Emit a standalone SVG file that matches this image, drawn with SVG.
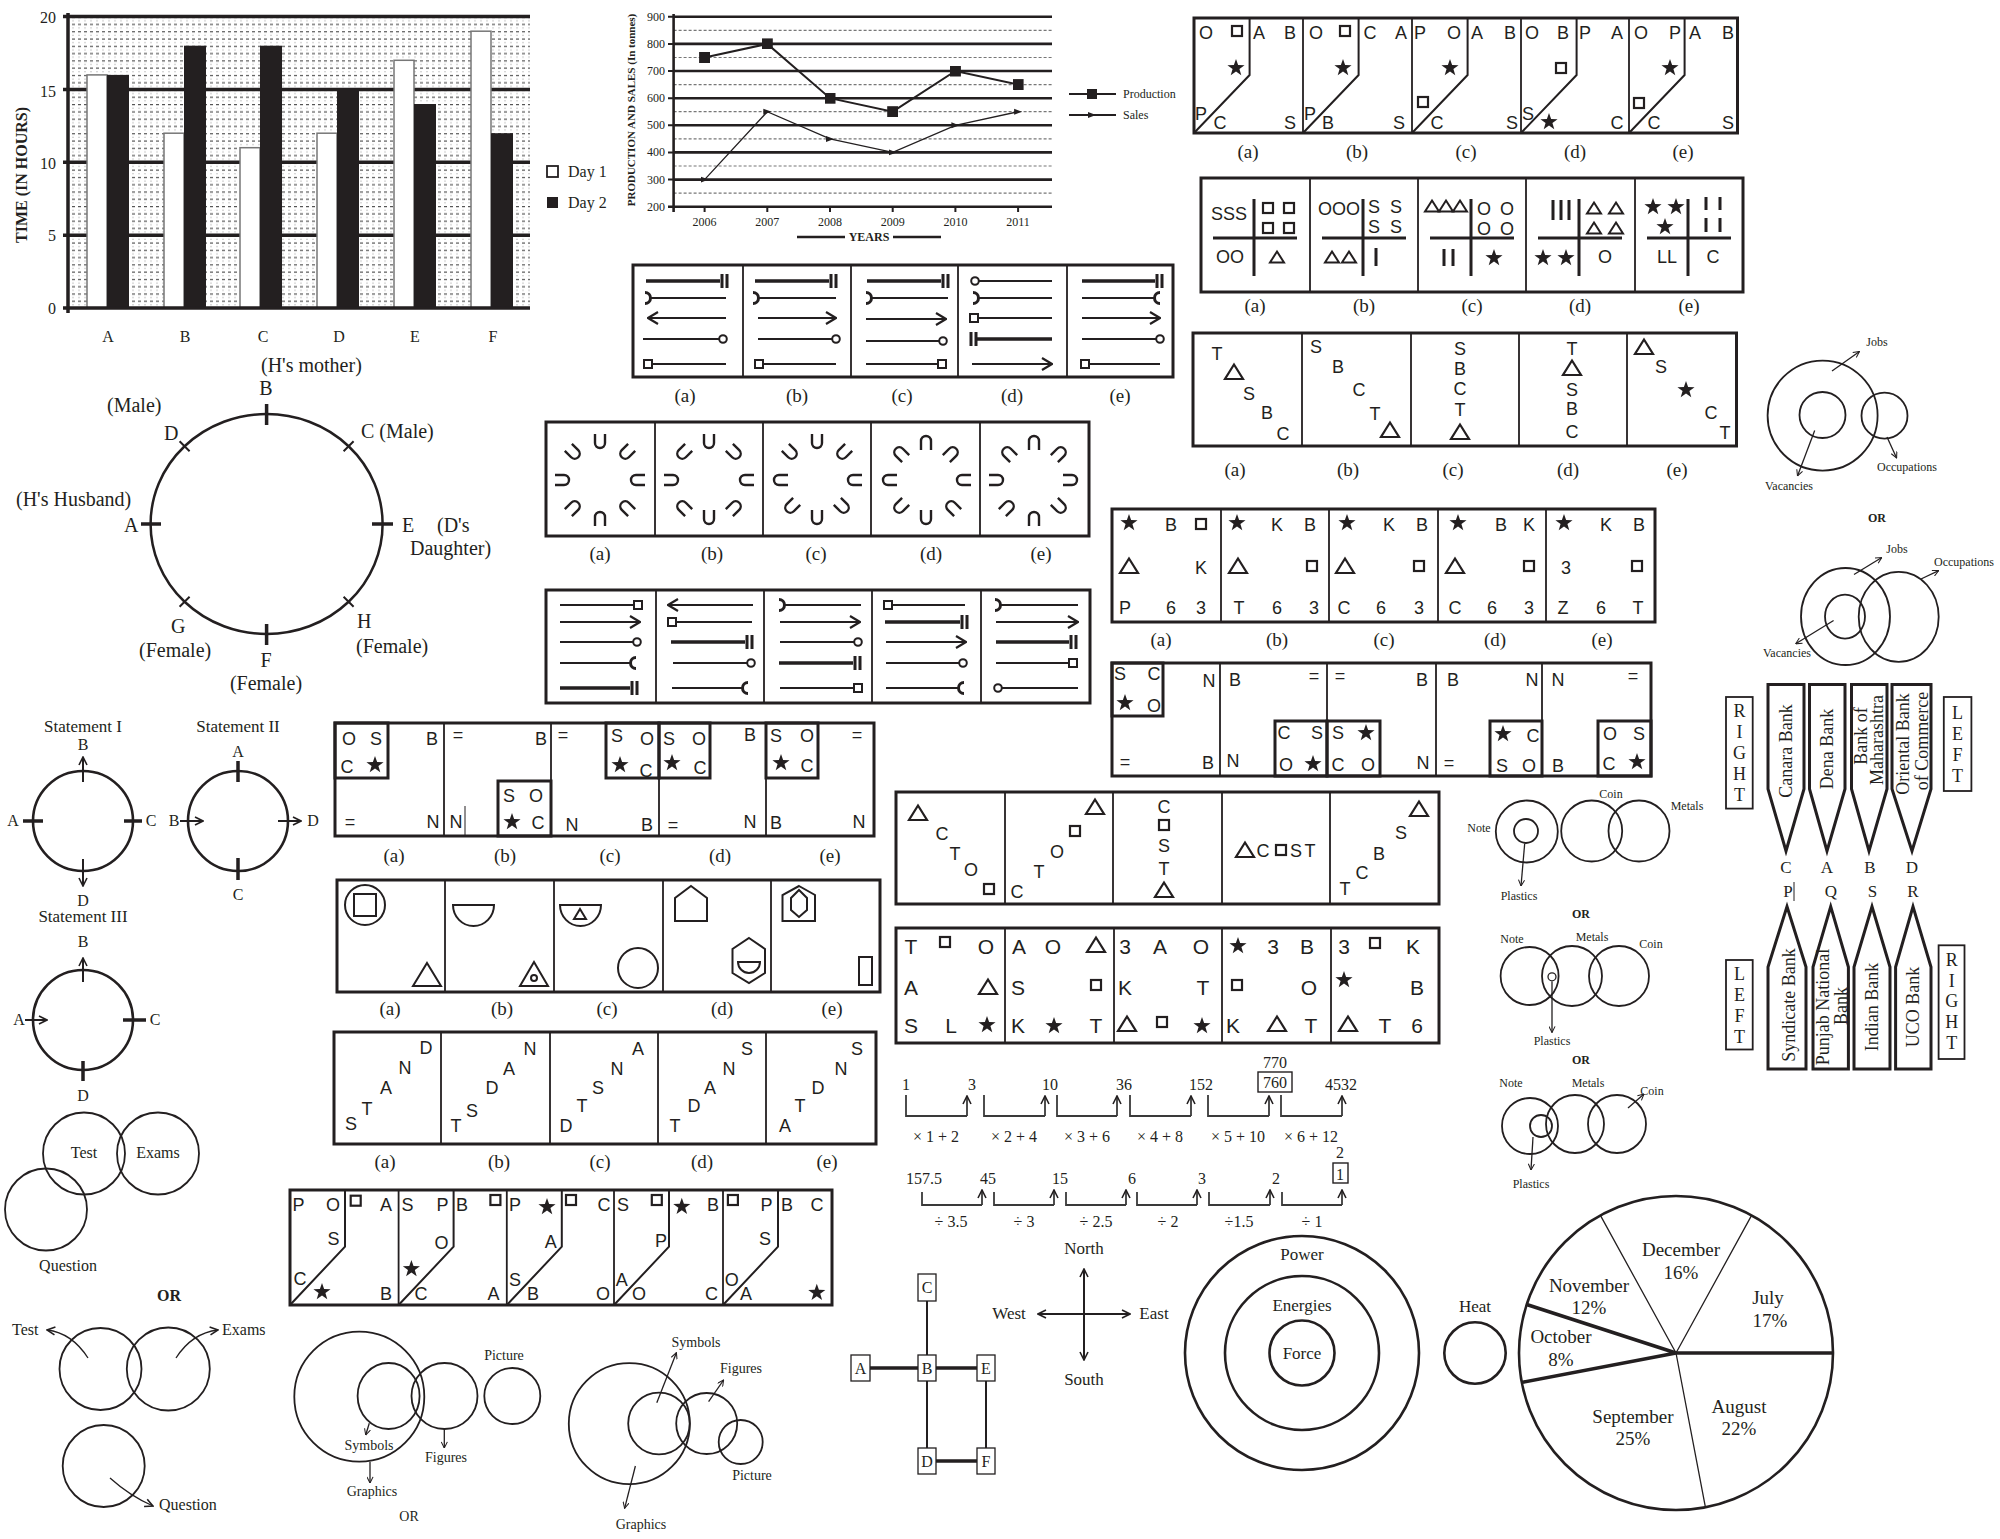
<svg xmlns="http://www.w3.org/2000/svg" width="2000" height="1539" viewBox="0 0 2000 1539">
<style>
text{fill:#231f20}
.s{font-family:"Liberation Sans",Arial,sans-serif;font-size:18px;text-anchor:middle}
.s21{font-family:"Liberation Sans",Arial,sans-serif;font-size:21px;text-anchor:middle}
.lb{font-family:"Liberation Serif","Times New Roman",serif;font-size:19px;text-anchor:middle}
.sf{font-family:"Liberation Serif","Times New Roman",serif;font-size:16px}
.c{text-anchor:middle}
.e{text-anchor:end}
.b{font-weight:bold}
.bx{fill:none;stroke:#231f20;stroke-width:3}
.dv{fill:none;stroke:#231f20;stroke-width:1.8}
.ln{fill:none;stroke:#231f20;stroke-width:2}
.tn{fill:none;stroke:#231f20;stroke-width:1.3}
.tk{fill:none;stroke:#231f20;stroke-width:3.5}
.cr{fill:none;stroke:#231f20;stroke-width:1.8}
.gl{fill:none;stroke:#231f20;stroke-width:2.6}
.gd{fill:none;stroke:#777;stroke-width:1.2;stroke-dasharray:3 2}
.br{fill:none;stroke:#3a3a3a;stroke-width:1.8}
</style>
<defs>
<path id="st" d="M0,-9 L2.12,-2.91 L8.56,-2.78 L3.42,1.11 L5.29,7.28 L0,3.6 L-5.29,7.28 L-3.42,1.11 L-8.56,-2.78 L-2.12,-2.91 Z" fill="#231f20"/>
<rect id="sq" x="-5" y="-5" width="10" height="10" fill="none" stroke="#231f20" stroke-width="2.2"/>
<path id="tr" d="M0,-7.5 L9,7 L-9,7 Z" fill="none" stroke="#231f20" stroke-width="2.2"/>
<path id="ts" d="M0,-5.5 L7,5.5 L-7,5.5 Z" fill="none" stroke="#231f20" stroke-width="2"/>
<path id="u" d="M-5,-8 V1 A5,5 0 0 0 5,1 V-8" fill="none" stroke="#231f20" stroke-width="2.4"/>
<path id="cl" d="M0,-5.5 A5.5,5.5 0 0 1 0,5.5" fill="none" stroke="#231f20" stroke-width="3"/>
<path id="cr" d="M0,-5.5 A5.5,5.5 0 0 0 0,5.5" fill="none" stroke="#231f20" stroke-width="3"/>
<path id="db" d="M0,-7 V7 M5,-7 V7" fill="none" stroke="#231f20" stroke-width="3"/>
<circle id="ci" r="3.8" fill="#fff" stroke="#231f20" stroke-width="2"/>
<rect id="sb" x="-4" y="-4" width="8" height="8" fill="#fff" stroke="#231f20" stroke-width="2"/>
<pattern id="dotp" x="0" y="16.6" width="6" height="14.57" patternUnits="userSpaceOnUse">
<rect x="0" y="0" width="3" height="1.2" fill="#555"/>
<rect x="0" y="3.64" width="2" height="1" fill="#c8c8c8"/>
<rect x="0" y="7.28" width="3" height="1.2" fill="#555"/>
<rect x="0" y="10.93" width="2" height="1" fill="#c8c8c8"/>
</pattern>
<marker id="ao" viewBox="0 0 10 10" refX="9" refY="5" markerWidth="10" markerHeight="10" orient="auto-start-reverse" markerUnits="userSpaceOnUse"><path d="M1,1 L9,5 L1,9" fill="none" stroke="#231f20" stroke-width="1.6"/></marker>
<marker id="am" viewBox="0 0 12 14" refX="11" refY="7" markerWidth="12" markerHeight="14" orient="auto" markerUnits="userSpaceOnUse"><path d="M1,1 L11,7 L1,13" fill="none" stroke="#231f20" stroke-width="2.2"/></marker>
<marker id="as" viewBox="0 0 8 8" refX="7.5" refY="4" markerWidth="7" markerHeight="7" orient="auto" markerUnits="userSpaceOnUse"><path d="M0.5,0.5 L7.5,4 L0.5,7.5" fill="none" stroke="#231f20" stroke-width="1.2"/></marker>
<marker id="sl" viewBox="0 0 8 8" refX="4" refY="4" markerWidth="8" markerHeight="8" orient="0" markerUnits="userSpaceOnUse"><path d="M0,1 L8,4 L0,7 Z" fill="#231f20"/></marker>
<marker id="pm" viewBox="0 0 10 10" refX="5" refY="5" markerWidth="11" markerHeight="11" orient="0" markerUnits="userSpaceOnUse"><rect width="10" height="10" fill="#231f20"/></marker>
</defs>
<rect width="2000" height="1539" fill="#fff"/>

<!-- BAR CHART -->
<g id="bar-chart">
<rect x="68" y="16.6" width="462" height="291.4" fill="url(#dotp)"/>
<path class="tk" d="M68,16.6H530M68,89.4H530M68,162.3H530M68,235.2H530"/>
<g stroke="#777" stroke-width="1.5">
<rect x="87" y="74.9" width="20" height="233.1" fill="#fff"/>
<rect x="164" y="133.2" width="20" height="174.8" fill="#fff"/>
<rect x="240" y="147.7" width="20" height="160.3" fill="#fff"/>
<rect x="317" y="133.2" width="20" height="174.8" fill="#fff"/>
<rect x="394" y="60.3" width="20" height="247.7" fill="#fff"/>
<rect x="471" y="31.2" width="20" height="276.8" fill="#fff"/>
</g>
<g fill="#231f20">
<rect x="107" y="74.9" width="22" height="233.1"/>
<rect x="184" y="45.7" width="22" height="262.3"/>
<rect x="260" y="45.7" width="22" height="262.3"/>
<rect x="337" y="89.4" width="22" height="218.6"/>
<rect x="414" y="104" width="22" height="204"/>
<rect x="491" y="133.2" width="22" height="174.8"/>
</g>
<path class="tk" d="M68,13V313M63,308H530M63,16.6H68M63,89.4H68M63,162.3H68M63,235.2H68"/>
<g class="sf e">
<text x="56" y="23">20</text><text x="56" y="97">15</text><text x="56" y="169">10</text><text x="56" y="241">5</text><text x="56" y="314">0</text>
</g>
<g class="sf c">
<text x="108" y="342">A</text><text x="185" y="342">B</text><text x="263" y="342">C</text><text x="339" y="342">D</text><text x="415" y="342">E</text><text x="493" y="342">F</text>
</g>
<text class="sf c b" font-size="18" transform="translate(21,175) rotate(-90)" y="6">TIME (IN HOURS)</text>
<rect x="547" y="166" width="11" height="11" fill="#fff" stroke="#231f20" stroke-width="1.8"/>
<rect x="547" y="197" width="11" height="11" fill="#231f20"/>
<text class="sf" x="568" y="177">Day 1</text>
<text class="sf" x="568" y="208">Day 2</text>
</g>

<!-- LINE CHART -->
<g id="line-chart">
<path class="gd" d="M673.6,30.3H1052M673.6,57.5H1052M673.6,84.6H1052M673.6,111.7H1052M673.6,138.9H1052M673.6,166H1052M673.6,193.1H1052"/>
<path class="gl" d="M673.6,16.7H1052M673.6,43.9H1052M673.6,71H1052M673.6,98.2H1052M673.6,125.3H1052M673.6,152.4H1052M673.6,179.6H1052M668,206.7H1052"/>
<path class="gl" d="M673.6,14V212"/>
<path class="ln" d="M668,16.7H673.6M668,43.9H673.6M668,71H673.6M668,98.2H673.6M668,125.3H673.6M668,152.4H673.6M668,179.6H673.6M704.6,206.7V212M767.3,206.7V212M830,206.7V212M892.7,206.7V212M955.4,206.7V212M1018.1,206.7V212"/>
<g font-family="Liberation Serif,serif" font-size="12" text-anchor="end">
<text x="665" y="21">900</text><text x="665" y="48">800</text><text x="665" y="75">700</text><text x="665" y="102">600</text><text x="665" y="129">500</text><text x="665" y="156">400</text><text x="665" y="184">300</text><text x="665" y="211">200</text>
</g>
<g font-family="Liberation Serif,serif" font-size="12" text-anchor="middle">
<text x="704.6" y="226">2006</text><text x="767.3" y="226">2007</text><text x="830" y="226">2008</text><text x="892.7" y="226">2009</text><text x="955.4" y="226">2010</text><text x="1018.1" y="226">2011</text>
</g>
<path class="gl" d="M797,237H845M893,237H941"/>
<text font-family="Liberation Serif,serif" font-size="12" font-weight="bold" text-anchor="middle" x="869" y="241">YEARS</text>
<text font-family="Liberation Serif,serif" font-size="11" font-weight="bold" text-anchor="middle" transform="translate(631,110) rotate(-90)" y="4">PRODUCTION AND SALES (In tonnes)</text>
<polyline class="ln" points="704.6,57.5 767.3,43.9 830,98.2 892.7,111.7 955.4,71 1018.1,84.6" marker-start="url(#pm)" marker-mid="url(#pm)" marker-end="url(#pm)"/>
<polyline class="tn" points="704.6,179.6 767.3,111.7 830,138.9 892.7,152.4 955.4,125.3 1018.1,111.7" marker-start="url(#sl)" marker-mid="url(#sl)" marker-end="url(#sl)"/>
<path class="ln" d="M1069,94H1116"/><rect x="1087" y="89" width="10" height="10" fill="#231f20"/>
<path class="ln" d="M1069,115H1116"/><path d="M1088,112 L1096,115 L1088,118Z" fill="#231f20"/>
<text font-family="Liberation Serif,serif" font-size="12" x="1123" y="98">Production</text>
<text font-family="Liberation Serif,serif" font-size="12" x="1123" y="119">Sales</text>
</g>

<!-- FOLDED SERIES TOP RIGHT -->
<g id="fold-top" class="s">
<rect class="bx" x="1194" y="18" width="543.5" height="115"/>
<path class="dv" d="M1303,18V133M1412,18V133M1521,18V133M1629,18V133"/>
<g transform="translate(1194,0)"><path class="ln" d="M55.6,18V75L0,133"/>
<text x="12" y="38.5">O</text><use href="#sq" x="43" y="31"/><text x="65" y="38.5">A</text><text x="96" y="38.5">B</text><use href="#st" x="42" y="68"/><text x="7" y="120">P</text><text x="26" y="129">C</text><text x="96" y="129">S</text></g>
<g transform="translate(1303,0)"><path class="ln" d="M55.6,18V75L0,133"/>
<text x="13" y="38.5">O</text><use href="#sq" x="42" y="31"/><text x="67" y="38.5">C</text><text x="98" y="38.5">A</text><use href="#st" x="40" y="68"/><text x="7" y="120">P</text><text x="25" y="129">B</text><text x="96" y="129">S</text></g>
<g transform="translate(1412,0)"><path class="ln" d="M55.6,18V75L0,133"/>
<text x="8" y="38.5">P</text><text x="42" y="38.5">O</text><text x="65" y="38.5">A</text><text x="98" y="38.5">B</text><use href="#st" x="38" y="68"/><use href="#sq" x="11" y="102"/><text x="25" y="129">C</text><text x="100" y="129">S</text></g>
<g transform="translate(1521,0)"><path class="ln" d="M55.6,18V75L0,133"/>
<text x="11" y="38.5">O</text><text x="42" y="38.5">B</text><text x="64" y="38.5">P</text><text x="96" y="38.5">A</text><use href="#sq" x="40" y="68"/><text x="7" y="120">S</text><use href="#st" x="28" y="122"/><text x="96" y="129">C</text></g>
<g transform="translate(1629,0)"><path class="ln" d="M55.6,18V75L0,133"/>
<text x="12" y="38.5">O</text><text x="46" y="38.5">P</text><text x="66" y="38.5">A</text><text x="99" y="38.5">B</text><use href="#st" x="41" y="68"/><use href="#sq" x="10" y="103"/><text x="25" y="129">C</text><text x="99" y="129">S</text></g>
</g>
<g id="fold-top-labels" class="lb"><text x="1248" y="158">(a)</text><text x="1357" y="158">(b)</text><text x="1466" y="158">(c)</text><text x="1575" y="158">(d)</text><text x="1683" y="158">(e)</text></g>

<!-- QUADRANT SERIES -->
<g id="quad-series" class="s">
<rect class="bx" x="1201" y="178" width="542" height="114"/>
<path class="dv" d="M1310,178V292M1418,178V292M1526,178V292M1635,178V292"/>
<g transform="translate(1201,0)"><path class="bx" d="M12,238H96M53,199V276"/>
<text x="28" y="220">SSS</text><use href="#sq" x="67" y="208"/><use href="#sq" x="88" y="208"/><use href="#sq" x="67" y="228"/><use href="#sq" x="88" y="228"/><text x="29" y="263">OO</text><use href="#ts" x="76" y="257"/></g>
<g transform="translate(1310,0)"><path class="bx" d="M12,238H96M53,199V276"/>
<text x="29" y="215">OOO</text><text x="64" y="213">S</text><text x="86" y="213">S</text><text x="64" y="233">S</text><text x="86" y="233">S</text><use href="#ts" x="22" y="257"/><use href="#ts" x="39" y="257"/><path class="bx" d="M66,248V266"/></g>
<g transform="translate(1418,0)"><path class="bx" d="M12,238H96M53,199V276"/>
<use href="#ts" x="14" y="206"/><use href="#ts" x="28" y="206"/><use href="#ts" x="42" y="206"/><text x="66" y="215">O</text><text x="89" y="215">O</text><text x="66" y="235">O</text><text x="89" y="235">O</text><path class="bx" d="M26,249V266M35,249V266"/><use href="#st" x="76" y="258"/></g>
<g transform="translate(1526,0)"><path class="bx" d="M12,238H96M53,199V276"/>
<path class="bx" d="M27,200V220M35,200V220M43,200V220"/><use href="#ts" x="68" y="208"/><use href="#ts" x="90" y="208"/><use href="#ts" x="68" y="228"/><use href="#ts" x="90" y="228"/><use href="#st" x="17" y="258"/><use href="#st" x="40" y="258"/><text x="79" y="263">O</text></g>
<g transform="translate(1635,0)"><path class="bx" d="M12,238H96M53,199V276"/>
<use href="#st" x="18" y="207"/><use href="#st" x="41" y="207"/><use href="#st" x="30" y="227"/><path class="bx" d="M71,197V210M85,197V210M71,218V232M85,218V232"/><text x="32" y="263">LL</text><text x="78" y="263">C</text></g>
</g>
<g id="quad-labels" class="lb"><text x="1255" y="312">(a)</text><text x="1364" y="312">(b)</text><text x="1472" y="312">(c)</text><text x="1580" y="312">(d)</text><text x="1689" y="312">(e)</text></g>

<!-- TSBC SERIES -->
<g id="tsbc-series" class="s">
<rect class="bx" x="1193" y="333" width="543.5" height="113"/>
<path class="dv" d="M1302,333V446M1411,333V446M1519,333V446M1627,333V446"/>
<text x="1217" y="360">T</text><use href="#tr" x="1234" y="372"/><text x="1249" y="400">S</text><text x="1267" y="419">B</text><text x="1283" y="440">C</text>
<text x="1316" y="353">S</text><text x="1338" y="373">B</text><text x="1359" y="396">C</text><text x="1375" y="420">T</text><use href="#tr" x="1390" y="430"/>
<text x="1460" y="355">S</text><text x="1460" y="375">B</text><text x="1460" y="395">C</text><text x="1460" y="416">T</text><use href="#tr" x="1460" y="432"/>
<text x="1572" y="355">T</text><use href="#tr" x="1572" y="368"/><text x="1572" y="396">S</text><text x="1572" y="415">B</text><text x="1572" y="438">C</text>
<use href="#tr" x="1644" y="347"/><text x="1661" y="373">S</text><use href="#st" x="1686" y="390"/><text x="1711" y="419">C</text><text x="1725" y="439">T</text>
</g>
<g id="tsbc-labels" class="lb"><text x="1235" y="476">(a)</text><text x="1348" y="476">(b)</text><text x="1453" y="476">(c)</text><text x="1568" y="476">(d)</text><text x="1677" y="476">(e)</text></g>

<!-- K B SERIES -->
<g id="kb-series" class="s">
<rect class="bx" x="1112" y="509" width="543" height="113"/>
<path class="dv" d="M1221,509V622M1329,509V622M1438,509V622M1546,509V622"/>
<use href="#st" x="1129" y="523"/><text x="1171" y="531">B</text><use href="#sq" x="1201" y="524"/><use href="#tr" x="1129" y="566"/><text x="1201" y="574">K</text><text x="1125" y="614">P</text><text x="1171" y="614">6</text><text x="1201" y="614">3</text>
<use href="#st" x="1237" y="523"/><text x="1277" y="531">K</text><text x="1310" y="531">B</text><use href="#tr" x="1238" y="566"/><use href="#sq" x="1312" y="566"/><text x="1239" y="614">T</text><text x="1277" y="614">6</text><text x="1314" y="614">3</text>
<use href="#st" x="1347" y="523"/><text x="1389" y="531">K</text><text x="1422" y="531">B</text><use href="#tr" x="1345" y="566"/><use href="#sq" x="1419" y="566"/><text x="1344" y="614">C</text><text x="1381" y="614">6</text><text x="1419" y="614">3</text>
<use href="#st" x="1458" y="523"/><text x="1501" y="531">B</text><text x="1529" y="531">K</text><use href="#tr" x="1455" y="566"/><use href="#sq" x="1529" y="566"/><text x="1455" y="614">C</text><text x="1492" y="614">6</text><text x="1529" y="614">3</text>
<use href="#st" x="1564" y="523"/><text x="1606" y="531">K</text><text x="1639" y="531">B</text><text x="1566" y="574">3</text><use href="#sq" x="1637" y="566"/><text x="1563" y="614">Z</text><text x="1601" y="614">6</text><text x="1638" y="614">T</text>
</g>
<g id="kb-labels" class="lb"><text x="1161" y="646">(a)</text><text x="1277" y="646">(b)</text><text x="1384" y="646">(c)</text><text x="1495" y="646">(d)</text><text x="1602" y="646">(e)</text></g>

<!-- SC BN SERIES -->
<g id="scbn-series" class="s">
<rect class="bx" x="1112" y="663" width="539" height="113"/>
<path class="dv" d="M1220,663V776M1327,663V776M1436,663V776M1542,663V776"/>
<rect class="bx" x="1112" y="663" width="51" height="53"/><rect class="bx" x="1275" y="721" width="52" height="55"/><rect class="bx" x="1327" y="721" width="53" height="55"/><rect class="bx" x="1490" y="721" width="52" height="55"/><rect class="bx" x="1598" y="721" width="53" height="55"/>
<text x="1120" y="680">S</text><text x="1154" y="680">C</text><use href="#st" x="1125" y="703"/><text x="1154" y="712">O</text><text x="1209" y="687">N</text><text x="1125" y="768">=</text><text x="1208" y="769">B</text>
<text x="1235" y="686">B</text><text x="1314" y="682">=</text><text x="1233" y="767">N</text><text x="1284" y="739">C</text><text x="1317" y="739">S</text><text x="1286" y="771">O</text><use href="#st" x="1313" y="764"/>
<text x="1340" y="682">=</text><text x="1422" y="686">B</text><text x="1338" y="739">S</text><use href="#st" x="1366" y="733"/><text x="1338" y="771">C</text><text x="1368" y="771">O</text><text x="1423" y="769">N</text>
<text x="1453" y="686">B</text><text x="1532" y="686">N</text><text x="1449" y="769">=</text><use href="#st" x="1503" y="734"/><text x="1533" y="742">C</text><text x="1502" y="772">S</text><text x="1529" y="772">O</text>
<text x="1558" y="686">N</text><text x="1633" y="682">=</text><text x="1558" y="772">B</text><text x="1610" y="740">O</text><text x="1639" y="740">S</text><text x="1609" y="770">C</text><use href="#st" x="1637" y="762"/>
</g>

<!-- LINE SYMBOL SERIES (TOP) -->
<g id="lines-top">
<rect class="bx" x="633" y="265" width="540" height="112"/>
<path class="dv" d="M743,265V377M851,265V377M958,265V377M1067,265V377"/>
<path class="tk" d="M646,281H720M755,281H829M867,281H941M977,339H1052M1082,281H1155"/>
<path class="ln" d="M650.5,298H726M758.5,298H836M871.5,298H948M978.5,298H1052M1082,298H1154.5M643,339H719M758,339H832M866,341H939M1082,339H1156M652,364H726M763,364H836M866,364H938M979,281H1052M978,318H1052M1089,364H1160"/>
<line class="ln" x1="726" y1="318" x2="648" y2="318" marker-end="url(#am)"/>
<line class="ln" x1="758" y1="318" x2="836" y2="318" marker-end="url(#am)"/>
<line class="ln" x1="866" y1="319" x2="946" y2="319" marker-end="url(#am)"/>
<line class="ln" x1="972" y1="364" x2="1052" y2="364" marker-end="url(#am)"/>
<line class="ln" x1="1082" y1="318" x2="1160" y2="318" marker-end="url(#am)"/>
<use href="#db" x="722" y="281"/><use href="#db" x="831" y="281"/><use href="#db" x="943" y="281"/><use href="#db" x="971" y="339"/><use href="#db" x="1157" y="281"/>
<use href="#cl" x="645" y="298"/><use href="#cl" x="753" y="298"/><use href="#cl" x="866" y="298"/><use href="#cl" x="973" y="298"/><use href="#cr" x="1160" y="298"/>
<use href="#ci" x="723" y="339"/><use href="#ci" x="836" y="339"/><use href="#ci" x="943" y="341"/><use href="#ci" x="975" y="281"/><use href="#ci" x="1160" y="339"/>
<use href="#sb" x="648" y="364"/><use href="#sb" x="759" y="364"/><use href="#sb" x="942" y="364"/><use href="#sb" x="974" y="318"/><use href="#sb" x="1085" y="364"/>
</g>
<g id="lines-top-labels" class="lb"><text x="685" y="402">(a)</text><text x="797" y="402">(b)</text><text x="902" y="402">(c)</text><text x="1012" y="402">(d)</text><text x="1120" y="402">(e)</text></g>

<!-- U SERIES -->
<g id="u-series">
<rect class="bx" x="546" y="422" width="543" height="114"/>
<path class="dv" d="M655,422V536M763,422V536M871,422V536M980,422V536"/>
<g transform="translate(600,480)"><use href="#u" transform="translate(0,-38) rotate(0)"/><use href="#u" transform="translate(26,-27) rotate(45)"/><use href="#u" transform="translate(37,0) rotate(90)"/><use href="#u" transform="translate(26,27) rotate(135)"/><use href="#u" transform="translate(0,38) rotate(180)"/><use href="#u" transform="translate(-26,27) rotate(225)"/><use href="#u" transform="translate(-37,0) rotate(270)"/><use href="#u" transform="translate(-26,-27) rotate(315)"/></g>
<g transform="translate(709,480)"><use href="#u" transform="translate(0,-38) rotate(0)"/><use href="#u" transform="translate(26,-27) rotate(-45)"/><use href="#u" transform="translate(37,0) rotate(90)"/><use href="#u" transform="translate(26,27) rotate(-135)"/><use href="#u" transform="translate(0,38) rotate(0)"/><use href="#u" transform="translate(-26,27) rotate(135)"/><use href="#u" transform="translate(-37,0) rotate(-90)"/><use href="#u" transform="translate(-26,-27) rotate(45)"/></g>
<g transform="translate(817,480)"><use href="#u" transform="translate(0,-38) rotate(0)"/><use href="#u" transform="translate(26,-27) rotate(45)"/><use href="#u" transform="translate(37,0) rotate(90)"/><use href="#u" transform="translate(26,27) rotate(-45)"/><use href="#u" transform="translate(0,38) rotate(0)"/><use href="#u" transform="translate(-26,27) rotate(45)"/><use href="#u" transform="translate(-37,0) rotate(90)"/><use href="#u" transform="translate(-26,-27) rotate(-45)"/></g>
<g transform="translate(926,480)"><use href="#u" transform="translate(0,-38) rotate(180)"/><use href="#u" transform="translate(26,-27) rotate(-135)"/><use href="#u" transform="translate(37,0) rotate(90)"/><use href="#u" transform="translate(26,27) rotate(135)"/><use href="#u" transform="translate(0,38) rotate(0)"/><use href="#u" transform="translate(-26,27) rotate(45)"/><use href="#u" transform="translate(-37,0) rotate(90)"/><use href="#u" transform="translate(-26,-27) rotate(135)"/></g>
<g transform="translate(1034,480)"><use href="#u" transform="translate(0,-38) rotate(180)"/><use href="#u" transform="translate(26,-27) rotate(-135)"/><use href="#u" transform="translate(37,0) rotate(-90)"/><use href="#u" transform="translate(26,27) rotate(-45)"/><use href="#u" transform="translate(0,38) rotate(180)"/><use href="#u" transform="translate(-26,27) rotate(-135)"/><use href="#u" transform="translate(-37,0) rotate(-90)"/><use href="#u" transform="translate(-26,-27) rotate(135)"/></g>
</g>
<g id="u-labels" class="lb"><text x="600" y="560">(a)</text><text x="712" y="560">(b)</text><text x="816" y="560">(c)</text><text x="931" y="560">(d)</text><text x="1041" y="560">(e)</text></g>

<!-- LINE SYMBOL SERIES (LOWER) -->
<g id="lines-low">
<rect class="bx" x="546" y="590" width="544" height="113"/>
<path class="dv" d="M656,590V703M764,590V703M872,590V703M981,590V703"/>
<path class="tk" d="M560,688H630M671,642H745M779,663H853M885,622H960M996,642H1069"/>
<path class="ln" d="M560,605H634M560,642H633M560,663H630.5M676,622H752M673,663H747M672,688H742.5M784.5,605H861M780,642H854M780,688H854M892,605H965M886,663H959M886,688H958.5M1000.5,605H1078M996,663H1069M1002,688H1078"/>
<line class="ln" x1="560" y1="622" x2="640" y2="622" marker-end="url(#am)"/>
<line class="ln" x1="753" y1="605" x2="668" y2="605" marker-end="url(#am)"/>
<line class="ln" x1="780" y1="622" x2="860" y2="622" marker-end="url(#am)"/>
<line class="ln" x1="886" y1="642" x2="966" y2="642" marker-end="url(#am)"/>
<line class="ln" x1="996" y1="622" x2="1078" y2="622" marker-end="url(#am)"/>
<use href="#sb" x="638" y="605"/><use href="#ci" x="637" y="642"/><use href="#cr" x="636" y="663"/><use href="#db" x="632" y="688"/>
<use href="#sb" x="672" y="622"/><use href="#db" x="747" y="642"/><use href="#ci" x="751" y="663"/><use href="#cr" x="748" y="688"/>
<use href="#cl" x="779" y="605"/><use href="#ci" x="858" y="642"/><use href="#db" x="855" y="663"/><use href="#sb" x="858" y="688"/>
<use href="#sb" x="888" y="605"/><use href="#db" x="962" y="622"/><use href="#ci" x="963" y="663"/><use href="#cr" x="964" y="688"/>
<use href="#cl" x="995" y="605"/><use href="#db" x="1071" y="642"/><use href="#sb" x="1073" y="663"/><use href="#ci" x="998" y="688"/>
</g>

<!-- SEATING CIRCLE -->
<g id="seating" class="sf" font-size="20">
<ellipse cx="266.6" cy="524" rx="116" ry="110" fill="none" stroke="#231f20" stroke-width="2.5"/>
<path class="tk" d="M266.6,404V425M266.6,624V645M141,524H161M372,524H393"/>
<path class="ln" stroke-width="2.5" d="M179.6,441.2L189.6,451.2M353.6,441.2L343.6,451.2M179.6,606.8L189.6,596.8M353.6,606.8L343.6,596.8"/>
<text x="261" y="372" font-size="20">(H's mother)</text>
<text x="266" y="395" class="c" font-size="20">B</text>
<text x="107" y="412" font-size="20">(Male)</text>
<text x="164" y="440" font-size="20">D</text>
<text x="361" y="438" font-size="20">C (Male)</text>
<text x="16" y="506" font-size="20">(H's Husband)</text>
<text x="124" y="532" font-size="20">A</text>
<text x="402" y="532" font-size="20">E</text>
<text x="437" y="532" font-size="20">(D's</text>
<text x="410" y="555" font-size="20">Daughter)</text>
<text x="171" y="633" font-size="20">G</text>
<text x="139" y="657" font-size="20">(Female)</text>
<text x="266" y="667" class="c" font-size="20">F</text>
<text x="266" y="690" class="c" font-size="20">(Female)</text>
<text x="357" y="628" font-size="20">H</text>
<text x="356" y="653" font-size="20">(Female)</text>
</g>

<!-- STATEMENT CIRCLES -->
<g id="statements" class="sf" font-size="16">
<text x="83" y="732" class="c" font-size="17">Statement I</text>
<circle cx="83" cy="821" r="50" class="gl" stroke-width="2.2"/>
<line class="ln" x1="83" y1="782" x2="83" y2="757" marker-end="url(#ao)"/>
<line class="ln" x1="83" y1="859" x2="83" y2="886" marker-end="url(#ao)"/>
<path class="tk" d="M23,821H43M124,821H142"/>
<text x="83" y="750" class="c">B</text><text x="13" y="826" class="c">A</text><text x="151" y="826" class="c">C</text><text x="83" y="906" class="c">D</text>
<text x="238" y="732" class="c" font-size="17">Statement II</text>
<circle cx="238" cy="821" r="50" class="gl" stroke-width="2.2"/>
<path class="tk" d="M238,761V782M238,858V880"/>
<line class="ln" x1="180" y1="821" x2="203" y2="821" marker-end="url(#ao)"/>
<line class="ln" x1="278" y1="821" x2="301" y2="821" marker-end="url(#ao)"/>
<text x="238" y="757" class="c">A</text><text x="174" y="826" class="c">B</text><text x="313" y="826" class="c">D</text><text x="238" y="900" class="c">C</text>
<text x="83" y="922" class="c" font-size="17">Statement III</text>
<circle cx="83" cy="1020" r="50" class="gl" stroke-width="2.2"/>
<line class="ln" x1="83" y1="982" x2="83" y2="958" marker-end="url(#ao)"/>
<line class="ln" x1="25" y1="1020" x2="47" y2="1020" marker-end="url(#ao)"/>
<path class="tk" d="M123,1020H146M83,1061V1081"/>
<text x="83" y="947" class="c">B</text><text x="19" y="1025" class="c">A</text><text x="155" y="1025" class="c">C</text><text x="83" y="1101" class="c">D</text>
</g>

<!-- TEST EXAMS QUESTION -->
<g id="test-exams" class="sf" font-size="16">
<circle cx="84" cy="1153.5" r="41" class="cr"/><circle cx="158" cy="1153.5" r="41" class="cr"/><circle cx="46" cy="1209.5" r="41" class="cr"/>
<text x="84" y="1158" class="c">Test</text><text x="158" y="1158" class="c">Exams</text><text x="68" y="1271" class="c">Question</text>
<text x="169" y="1301" class="c b">OR</text>
<circle cx="100.5" cy="1369" r="41" class="cr"/><circle cx="168.3" cy="1369" r="41.5" class="cr"/><circle cx="103.7" cy="1466" r="41" class="cr"/>
<path class="tn" d="M88,1358 Q72,1333 47,1330" marker-end="url(#ao)"/>
<path class="tn" d="M176,1358 Q192,1333 218,1330" marker-end="url(#ao)"/>
<path class="tn" d="M110,1478 Q130,1496 153,1506" marker-end="url(#ao)"/>
<text x="12" y="1335">Test</text><text x="222" y="1335">Exams</text><text x="159" y="1510">Question</text>
</g>

<!-- OS BN SERIES -->
<g id="osbn-series" class="s">
<rect class="bx" x="335" y="723" width="539" height="113"/>
<path class="dv" d="M444,723V836M551,723V836M659,723V836M766,723V836"/>
<rect class="bx" x="335" y="723" width="53" height="55"/><rect class="bx" x="498" y="781" width="53" height="55"/><rect class="bx" x="606" y="723" width="53" height="55"/><rect class="bx" x="659" y="723" width="51" height="55"/><rect class="bx" x="766" y="723" width="52" height="55"/>
<text x="349" y="745">O</text><text x="376" y="745">S</text><text x="347" y="773">C</text><use href="#st" x="375" y="765"/><text x="432" y="745">B</text><text x="350" y="828">=</text><text x="433" y="828">N</text>
<text x="458" y="741">=</text><text x="541" y="745">B</text><text x="456" y="828">N</text><path d="M465,806V836" stroke="#231f20" stroke-width="1"/><text x="509" y="802">S</text><text x="536" y="802">O</text><use href="#st" x="512" y="822"/><text x="538" y="829">C</text>
<text x="563" y="741">=</text><text x="617" y="742">S</text><text x="647" y="745">O</text><use href="#st" x="620" y="765"/><text x="646" y="777">C</text><text x="572" y="831">N</text><text x="647" y="831">B</text>
<text x="669" y="745">S</text><text x="699" y="745">O</text><use href="#st" x="672" y="763"/><text x="700" y="774">C</text><text x="750" y="741">B</text><text x="673" y="831">=</text><text x="750" y="828">N</text>
<text x="776" y="742">S</text><text x="807" y="742">O</text><use href="#st" x="781" y="763"/><text x="807" y="772">C</text><text x="857" y="741">=</text><text x="776" y="829">B</text><text x="859" y="828">N</text>
</g>
<g id="osbn-labels" class="lb"><text x="394" y="862">(a)</text><text x="505" y="862">(b)</text><text x="610" y="862">(c)</text><text x="720" y="862">(d)</text><text x="830" y="862">(e)</text></g>

<!-- SHAPES SERIES -->
<g id="shapes-series">
<rect class="bx" x="337" y="880" width="543" height="112"/>
<path class="dv" d="M445,880V992M554,880V992M663,880V992M771,880V992"/>
<g class="ln">
<circle cx="365" cy="905" r="20"/><rect x="354" y="894" width="22" height="22"/><path d="M427,963L441,986H413Z"/>
<path d="M453,905H494A20.5,21 0 0 1 453,905Z"/><path d="M534,962L548,986H520Z"/><circle cx="534" cy="978" r="3"/>
<path d="M560,905H601A20.5,21 0 0 1 560,905Z"/><path d="M580,909L586,919H574Z"/><circle cx="638" cy="968" r="20"/>
<path d="M691,886L707,898V921H675V898Z"/><path d="M749,938L765,949V973L749,983L732.5,973V949Z"/><path d="M738,962H760A11,11 0 0 1 738,962Z"/>
<path d="M799,886L815,895V921H782.5V895Z"/><path d="M799,890L807,898V910L799,917L791,910V898Z"/><rect x="859" y="957" width="13" height="28"/>
</g>
</g>
<g id="shapes-labels" class="lb"><text x="390" y="1015">(a)</text><text x="502" y="1015">(b)</text><text x="607" y="1015">(c)</text><text x="722" y="1015">(d)</text><text x="832" y="1015">(e)</text></g>

<!-- STAND SERIES -->
<g id="stand-series" class="s">
<rect class="bx" x="334" y="1032" width="542" height="112"/>
<path class="dv" d="M441,1032V1144M550,1032V1144M658,1032V1144M766,1032V1144"/>
<text x="351" y="1130">S</text><text x="367" y="1115">T</text><text x="386" y="1094">A</text><text x="405" y="1074">N</text><text x="426" y="1054">D</text>
<text x="456" y="1132">T</text><text x="472" y="1117">S</text><text x="492" y="1094">D</text><text x="509" y="1075">A</text><text x="530" y="1055">N</text>
<text x="566" y="1132">D</text><text x="582" y="1112">T</text><text x="598" y="1094">S</text><text x="617" y="1075">N</text><text x="638" y="1055">A</text>
<text x="675" y="1132">T</text><text x="694" y="1112">D</text><text x="710" y="1094">A</text><text x="729" y="1075">N</text><text x="747" y="1055">S</text>
<text x="785" y="1132">A</text><text x="800" y="1112">T</text><text x="818" y="1094">D</text><text x="841" y="1075">N</text><text x="857" y="1055">S</text>
</g>
<g id="stand-labels" class="lb"><text x="385" y="1168">(a)</text><text x="499" y="1168">(b)</text><text x="600" y="1168">(c)</text><text x="702" y="1168">(d)</text><text x="827" y="1168">(e)</text></g>

<!-- TOCST SERIES -->
<g id="tocst-series" class="s">
<rect class="bx" x="896" y="792" width="543" height="112"/>
<path class="dv" d="M1005,792V904M1113,792V904M1222,792V904M1330,792V904"/>
<use href="#tr" x="918" y="813"/><text x="942" y="840">C</text><text x="955" y="860">T</text><text x="971" y="876">O</text><use href="#sq" x="989" y="889"/>
<text x="1017" y="898">C</text><text x="1039" y="878">T</text><text x="1057" y="858">O</text><use href="#sq" x="1075" y="831"/><use href="#tr" x="1095" y="807"/>
<text x="1164" y="813">C</text><use href="#sq" x="1164" y="825"/><text x="1164" y="852">S</text><text x="1164" y="875">T</text><use href="#tr" x="1164" y="890"/>
<use href="#tr" x="1245" y="850"/><text x="1263" y="857">C</text><use href="#sq" x="1281" y="850"/><text x="1296" y="857">S</text><text x="1310" y="857">T</text>
<use href="#tr" x="1419" y="809"/><text x="1401" y="839">S</text><text x="1379" y="860">B</text><text x="1362" y="879">C</text><text x="1345" y="895">T</text>
</g>

<!-- TAO GRID SERIES -->
<g id="tao-series" class="s21">
<rect class="bx" x="896" y="928" width="543" height="115"/>
<path class="dv" d="M1005,928V1043M1114,928V1043M1222,928V1043M1331,928V1043"/>
<text x="911" y="954">T</text><use href="#sq" x="945" y="942"/><text x="986" y="954">O</text><text x="911" y="995">A</text><use href="#tr" x="988" y="987"/><text x="911" y="1033">S</text><text x="951" y="1033">L</text><use href="#st" x="987" y="1025"/>
<text x="1019" y="954">A</text><text x="1053" y="954">O</text><use href="#tr" x="1096" y="945"/><text x="1018" y="995">S</text><use href="#sq" x="1096" y="985"/><text x="1018" y="1033">K</text><use href="#st" x="1054" y="1026"/><text x="1096" y="1033">T</text>
<text x="1125" y="954">3</text><text x="1160" y="954">A</text><text x="1201" y="954">O</text><text x="1125" y="995">K</text><text x="1203" y="995">T</text><use href="#tr" x="1127" y="1024"/><use href="#sq" x="1162" y="1022"/><use href="#st" x="1202" y="1026"/>
<use href="#st" x="1238" y="946"/><text x="1273" y="954">3</text><text x="1307" y="954">B</text><use href="#sq" x="1237" y="985"/><text x="1309" y="995">O</text><text x="1233" y="1033">K</text><use href="#tr" x="1277" y="1024"/><text x="1311" y="1033">T</text>
<text x="1344" y="954">3</text><use href="#sq" x="1375" y="943"/><text x="1413" y="954">K</text><use href="#st" x="1344" y="980"/><text x="1417" y="995">B</text><use href="#tr" x="1348" y="1024"/><text x="1385" y="1033">T</text><text x="1417" y="1033">6</text>
</g>

<!-- NUMBER SERIES -->
<g id="num-series" class="sf" font-size="16" text-anchor="middle">
<path class="br" d="M906,1095V1116H967M984,1095V1116H1045M1057,1095V1116H1117M1130,1095V1116H1191M1208,1095V1116H1269M1281,1095V1116H1342"/>
<line class="br" x1="967" y1="1116" x2="967" y2="1096" marker-end="url(#ao)"/>
<line class="br" x1="1045" y1="1116" x2="1045" y2="1096" marker-end="url(#ao)"/>
<line class="br" x1="1117" y1="1116" x2="1117" y2="1096" marker-end="url(#ao)"/>
<line class="br" x1="1191" y1="1116" x2="1191" y2="1096" marker-end="url(#ao)"/>
<line class="br" x1="1269" y1="1116" x2="1269" y2="1096" marker-end="url(#ao)"/>
<line class="br" x1="1342" y1="1116" x2="1342" y2="1096" marker-end="url(#ao)"/>
<text x="906" y="1090">1</text><text x="972" y="1090">3</text><text x="1050" y="1090">10</text><text x="1124" y="1090">36</text><text x="1201" y="1090">152</text><text x="1275" y="1068">770</text><rect x="1258" y="1072" width="34" height="20" fill="none" stroke="#231f20" stroke-width="1.4"/><text x="1275" y="1088">760</text><text x="1341" y="1090">4532</text>
<text x="936" y="1142">× 1 + 2</text><text x="1014" y="1142">× 2 + 4</text><text x="1087" y="1142">× 3 + 6</text><text x="1160" y="1142">× 4 + 8</text><text x="1238" y="1142">× 5 + 10</text><text x="1311" y="1142">× 6 + 12</text>
<path class="br" d="M922,1192V1205H982M994,1192V1205H1054M1066,1192V1205H1126M1137,1192V1205H1197M1209,1192V1205H1270M1282,1192V1205H1342"/>
<line class="br" x1="982" y1="1205" x2="982" y2="1190" marker-end="url(#ao)"/>
<line class="br" x1="1054" y1="1205" x2="1054" y2="1190" marker-end="url(#ao)"/>
<line class="br" x1="1126" y1="1205" x2="1126" y2="1190" marker-end="url(#ao)"/>
<line class="br" x1="1197" y1="1205" x2="1197" y2="1190" marker-end="url(#ao)"/>
<line class="br" x1="1270" y1="1205" x2="1270" y2="1190" marker-end="url(#ao)"/>
<line class="br" x1="1342" y1="1205" x2="1342" y2="1190" marker-end="url(#ao)"/>
<text x="924" y="1184">157.5</text><text x="988" y="1184">45</text><text x="1060" y="1184">15</text><text x="1132" y="1184">6</text><text x="1202" y="1184">3</text><text x="1276" y="1184">2</text><text x="1340" y="1158">2</text><rect x="1333" y="1163" width="15" height="20" fill="none" stroke="#231f20" stroke-width="1.4"/><text x="1340" y="1180">1</text>
<text x="951" y="1227">÷ 3.5</text><text x="1024" y="1227">÷ 3</text><text x="1096" y="1227">÷ 2.5</text><text x="1168" y="1227">÷ 2</text><text x="1239" y="1227">÷1.5</text><text x="1312" y="1227">÷ 1</text>
</g>

<!-- BOTTOM FOLDED SERIES -->
<g id="fold-bottom" class="s">
<rect class="bx" x="290" y="1190" width="542" height="115"/>
<path class="dv" d="M398.6,1190V1305M506.8,1190V1305M614,1190V1305M723,1190V1305"/>
<g transform="translate(290,0)"><path class="ln" d="M55,1190V1246.7L0,1305"/><text x="8.6" y="1211">P</text><text x="42.9" y="1211">O</text><use href="#sq" x="65.7" y="1200.7"/><text x="96" y="1211">A</text><text x="43.6" y="1245">S</text><text x="10" y="1285">C</text><use href="#st" x="32" y="1292"/><text x="96" y="1300">B</text></g>
<g transform="translate(398.6,0)"><path class="ln" d="M55,1190V1246.7L0,1305"/><text x="8.9" y="1211">S</text><text x="43.9" y="1211">P</text><text x="63.4" y="1211">B</text><use href="#sq" x="96.8" y="1200"/><text x="42.8" y="1249">O</text><use href="#st" x="12.8" y="1269"/><text x="22.4" y="1300">C</text><text x="95" y="1300">A</text></g>
<g transform="translate(506.8,0)"><path class="ln" d="M55,1190V1246.7L0,1305"/><text x="8.2" y="1211">P</text><use href="#st" x="40.2" y="1207"/><use href="#sq" x="64.2" y="1200"/><text x="97.2" y="1211">C</text><text x="43.9" y="1248">A</text><text x="8.2" y="1286">S</text><text x="26.2" y="1300">B</text><text x="96.2" y="1300">O</text></g>
<g transform="translate(614,0)"><path class="ln" d="M55,1190V1246.7L0,1305"/><text x="8.9" y="1211">S</text><use href="#sq" x="42.8" y="1200"/><use href="#st" x="67.8" y="1206.7"/><text x="99" y="1211">B</text><text x="47" y="1247">P</text><text x="7.8" y="1286">A</text><text x="25" y="1300">O</text><text x="97.4" y="1300">C</text></g>
<g transform="translate(723,0)"><path class="ln" d="M55,1190V1246.7L0,1305"/><use href="#sq" x="9.9" y="1200"/><text x="43.4" y="1211">P</text><text x="64" y="1211">B</text><text x="94" y="1211">C</text><text x="42" y="1245">S</text><text x="8.8" y="1286">O</text><text x="23" y="1300">A</text><use href="#st" x="93.8" y="1292.7"/></g>
</g>

<!-- GRAPHICS VENN 1 -->
<g id="venn-graphics-1" font-family="Liberation Serif,serif" font-size="14" text-anchor="middle">
<circle cx="359.3" cy="1396.7" r="65" class="cr"/><ellipse cx="388.6" cy="1396" rx="31" ry="33" class="cr"/><ellipse cx="444.5" cy="1396" rx="33" ry="33" class="cr"/><circle cx="512.3" cy="1396" r="28" class="cr"/>
<line class="tn" x1="369.3" y1="1423.3" x2="365.7" y2="1435" marker-end="url(#as)"/>
<line class="tn" x1="444.3" y1="1429" x2="444.3" y2="1448" marker-end="url(#as)"/>
<line class="tn" x1="370" y1="1461.7" x2="370" y2="1483" marker-end="url(#as)"/>
<text x="369" y="1450">Symbols</text><text x="446" y="1462">Figures</text><text x="372" y="1496">Graphics</text><text x="504" y="1360">Picture</text>
<text x="409" y="1521">OR</text>
</g>
<!-- GRAPHICS VENN 2 -->
<g id="venn-graphics-2" font-family="Liberation Serif,serif" font-size="14" text-anchor="middle">
<circle cx="629.3" cy="1423.7" r="60.5" class="cr"/><circle cx="659" cy="1423.5" r="30.8" class="cr"/><circle cx="706.7" cy="1423.5" r="30.5" class="cr"/><circle cx="740.7" cy="1442" r="22" class="cr"/>
<line class="tn" x1="656.8" y1="1402.7" x2="676.4" y2="1352.7" marker-end="url(#as)"/>
<line class="tn" x1="708.6" y1="1401.7" x2="723.6" y2="1380" marker-end="url(#as)"/>
<line class="tn" x1="635.4" y1="1466" x2="624.6" y2="1508.3" marker-end="url(#as)"/>
<text x="696" y="1347">Symbols</text><text x="741" y="1373">Figures</text><text x="641" y="1529">Graphics</text><text x="752" y="1480">Picture</text>
</g>

<!-- JOBS VENN -->
<g id="jobs-venn" font-family="Liberation Serif,serif" font-size="12" text-anchor="middle">
<circle cx="1822.6" cy="415.6" r="55" class="cr"/><circle cx="1822.5" cy="415" r="23" class="cr"/><circle cx="1884.5" cy="415.7" r="23" class="cr"/>
<line class="tn" x1="1832" y1="371" x2="1859.5" y2="351.5" marker-end="url(#as)"/>
<line class="tn" x1="1814.7" y1="430.5" x2="1797.5" y2="476" marker-end="url(#as)"/>
<line class="tn" x1="1887" y1="437" x2="1896.6" y2="458" marker-end="url(#as)"/>
<text x="1877" y="346">Jobs</text><text x="1789" y="490">Vacancies</text><text x="1907" y="471">Occupations</text>
<text x="1877" y="522" font-weight="bold">OR</text>
<ellipse cx="1845.5" cy="616.5" rx="44.5" ry="48.5" class="cr"/><ellipse cx="1845" cy="616.6" rx="20" ry="22" class="cr"/><ellipse cx="1898.7" cy="616.8" rx="40" ry="45" class="cr"/>
<line class="tn" x1="1854" y1="574.5" x2="1881.8" y2="557.5" marker-end="url(#as)"/>
<line class="tn" x1="1921" y1="579" x2="1938.7" y2="570.6" marker-end="url(#as)"/>
<line class="tn" x1="1833.6" y1="620.5" x2="1795.7" y2="643.8" marker-end="url(#as)"/>
<text x="1897" y="553">Jobs</text><text x="1964" y="566">Occupations</text><text x="1787" y="657">Vacancies</text>
</g>

<!-- NOTE COIN METALS -->
<g id="note-coin" font-family="Liberation Serif,serif" font-size="12" text-anchor="middle">
<circle cx="1526.8" cy="831.5" r="31" class="cr"/><circle cx="1526" cy="831" r="12" class="cr"/><circle cx="1591.7" cy="831" r="30.5" class="cr"/><circle cx="1639" cy="831" r="30.5" class="cr"/>
<line class="tn" x1="1524.7" y1="843.5" x2="1521" y2="886" marker-end="url(#as)"/>
<text x="1479" y="832">Note</text><text x="1611" y="798">Coin</text><text x="1687" y="810">Metals</text><text x="1519" y="900">Plastics</text>
<text x="1581" y="918" font-weight="bold">OR</text>
<circle cx="1529.6" cy="976" r="29" class="cr"/><circle cx="1572" cy="976" r="30" class="cr"/><circle cx="1619" cy="976" r="30" class="cr"/><circle cx="1552" cy="976.8" r="4" class="tn"/>
<line class="tn" x1="1552" y1="981.6" x2="1552" y2="1032.5" marker-end="url(#as)"/>
<text x="1512" y="943">Note</text><text x="1592" y="941">Metals</text><text x="1651" y="948">Coin</text><text x="1552" y="1045">Plastics</text>
<text x="1581" y="1064" font-weight="bold">OR</text>
<circle cx="1530" cy="1126" r="28" class="cr"/><circle cx="1541" cy="1126" r="11" class="cr"/><circle cx="1575" cy="1124" r="29" class="cr"/><circle cx="1617" cy="1124" r="29" class="cr"/>
<line class="tn" x1="1533" y1="1137" x2="1531" y2="1170" marker-end="url(#as)"/>
<line class="tn" x1="1628" y1="1108" x2="1644" y2="1094" marker-end="url(#as)"/>
<text x="1511" y="1087">Note</text><text x="1588" y="1087">Metals</text><text x="1652" y="1095">Coin</text><text x="1531" y="1188">Plastics</text>
</g>

<!-- BANKS -->
<g id="banks" font-family="Liberation Serif,serif" font-size="18" text-anchor="middle">
<rect x="1726" y="697" width="26.7" height="111.6" class="dv"/>
<text x="1739.6" y="717">R</text><text x="1739.6" y="738">I</text><text x="1739.6" y="759">G</text><text x="1739.6" y="780">H</text><text x="1739.6" y="801">T</text>
<rect x="1943.8" y="697" width="27.6" height="94" class="dv"/>
<text x="1957.6" y="719">L</text><text x="1957.6" y="740">E</text><text x="1957.6" y="761">F</text><text x="1957.6" y="782">T</text>
<path class="bx" d="M1768,684.5H1804V789L1786,851L1768,789Z M1809.5,684.5H1845V789L1827,851L1809.5,789Z M1851.5,684.5H1887V789L1869,851L1851.5,789Z M1892,684.5H1931V789L1912,851L1892,789Z"/>
<text transform="translate(1786,751) rotate(-90)" y="6">Canara Bank</text>
<text transform="translate(1827,749) rotate(-90)" y="6">Dena Bank</text>
<text transform="translate(1860.5,736) rotate(-90)" y="6">Bank of</text>
<text transform="translate(1877,740) rotate(-90)" y="6">Maharashtra</text>
<text transform="translate(1902.5,744) rotate(-90)" y="6">Oriental Bank</text>
<text transform="translate(1921.5,741) rotate(-90)" y="6">of Commerce</text>
<text x="1786" y="873" font-size="17">C</text><text x="1827" y="873" font-size="17">A</text><text x="1870" y="873" font-size="17">B</text><text x="1912" y="873" font-size="17">D</text>
<text x="1788" y="897" font-size="17">P</text><path d="M1794,882V901" stroke="#231f20" stroke-width="1"/><text x="1831" y="897" font-size="17">Q</text><text x="1872.5" y="897" font-size="17">S</text><text x="1913" y="897" font-size="17">R</text>
<path class="bx" d="M1768,1069V967L1787,906.5L1806,967V1069Z M1813,1069V967L1830.7,906.5L1848.4,967V1069Z M1854,1069V967L1872,906.5L1890,967V1069Z M1895.6,1069V967L1913,906.5L1931,967V1069Z"/>
<text transform="translate(1789,1005) rotate(-90)" y="6">Syndicate Bank</text>
<text transform="translate(1823,1007) rotate(-90)" y="6">Punjab National</text>
<text transform="translate(1840.5,1006) rotate(-90)" y="6">Bank</text>
<text transform="translate(1871.5,1007) rotate(-90)" y="6">Indian Bank</text>
<text transform="translate(1913,1007) rotate(-90)" y="6">UCO Bank</text>
<rect x="1726" y="960" width="26.7" height="89.5" class="dv"/>
<text x="1739.6" y="980">L</text><text x="1739.6" y="1001">E</text><text x="1739.6" y="1022">F</text><text x="1739.6" y="1043">T</text>
<rect x="1938.6" y="945.3" width="25.9" height="113.7" class="dv"/>
<text x="1951.7" y="966">R</text><text x="1951.7" y="987">I</text><text x="1951.7" y="1007">G</text><text x="1951.7" y="1028">H</text><text x="1951.7" y="1049">T</text>
</g>

<!-- BOX NETWORK -->
<g id="box-network" font-family="Liberation Serif,serif" font-size="16" text-anchor="middle">
<path class="ln" stroke-width="2.5" d="M927,1301V1355"/>
<path class="tk" stroke-width="4" d="M870,1368H918M936,1368H977M936,1461H977"/>
<path class="ln" d="M927,1381V1448M986,1381V1448"/>
<g class="tn"><rect x="918" y="1274" width="18" height="27" fill="#fff"/><rect x="851" y="1355" width="19" height="26" fill="#fff"/><rect x="918" y="1355" width="18" height="26" fill="#fff"/><rect x="977" y="1355" width="18" height="26" fill="#fff"/><rect x="918" y="1448" width="18" height="26" fill="#fff"/><rect x="977" y="1448" width="18" height="26" fill="#fff"/></g>
<text x="927" y="1293">C</text><text x="860.5" y="1374">A</text><text x="927" y="1374">B</text><text x="986" y="1374">E</text><text x="927" y="1467">D</text><text x="986" y="1467">F</text>
</g>

<!-- COMPASS -->
<g id="compass" font-family="Liberation Serif,serif" font-size="17" text-anchor="middle">
<line class="ln" x1="1084" y1="1269" x2="1084" y2="1360" marker-start="url(#ao)" marker-end="url(#ao)"/>
<line class="ln" x1="1038" y1="1314" x2="1130" y2="1314" marker-start="url(#ao)" marker-end="url(#ao)"/>
<text x="1084" y="1254">North</text><text x="1084" y="1385">South</text><text x="1009" y="1319">West</text><text x="1154" y="1319">East</text>
</g>

<!-- POWER / HEAT -->
<g id="power" font-family="Liberation Serif,serif" font-size="17" text-anchor="middle">
<circle cx="1302" cy="1353" r="117" class="gl" stroke-width="2.4"/><circle cx="1302" cy="1353" r="77" class="gl" stroke-width="2.4"/><circle cx="1302" cy="1353" r="32.5" class="gl" stroke-width="2.4"/>
<text x="1302" y="1260">Power</text><text x="1302" y="1311">Energies</text><text x="1302" y="1359">Force</text>
</g>
<g id="heat" font-family="Liberation Serif,serif" font-size="17" text-anchor="middle">
<circle cx="1475" cy="1353" r="30.7" class="gl" stroke-width="2.2"/><text x="1475" y="1312">Heat</text>
</g>

<!-- PIE -->
<g id="pie" font-family="Liberation Serif,serif" font-size="19" text-anchor="middle">
<circle cx="1676" cy="1353" r="157" class="gl" stroke-width="2.6"/>
<path class="tn" stroke-width="1.6" d="M1676,1353L1705.4,1507.2M1676,1353L1600.4,1215.4M1676,1353L1751.6,1215.4"/>
<path class="tk" stroke-width="4.5" d="M1676,1353H1833M1676,1353L1521.8,1382.4M1676,1353L1526.7,1304.5"/>
<text x="1681" y="1256">December</text><text x="1681" y="1279">16%</text>
<text x="1589" y="1292">November</text><text x="1589" y="1314">12%</text>
<text x="1768" y="1304">July</text><text x="1770" y="1327">17%</text>
<text x="1561" y="1343">October</text><text x="1561" y="1366">8%</text>
<text x="1633" y="1423">September</text><text x="1633" y="1445">25%</text>
<text x="1739" y="1413">August</text><text x="1739" y="1435">22%</text>
</g>
</svg>
